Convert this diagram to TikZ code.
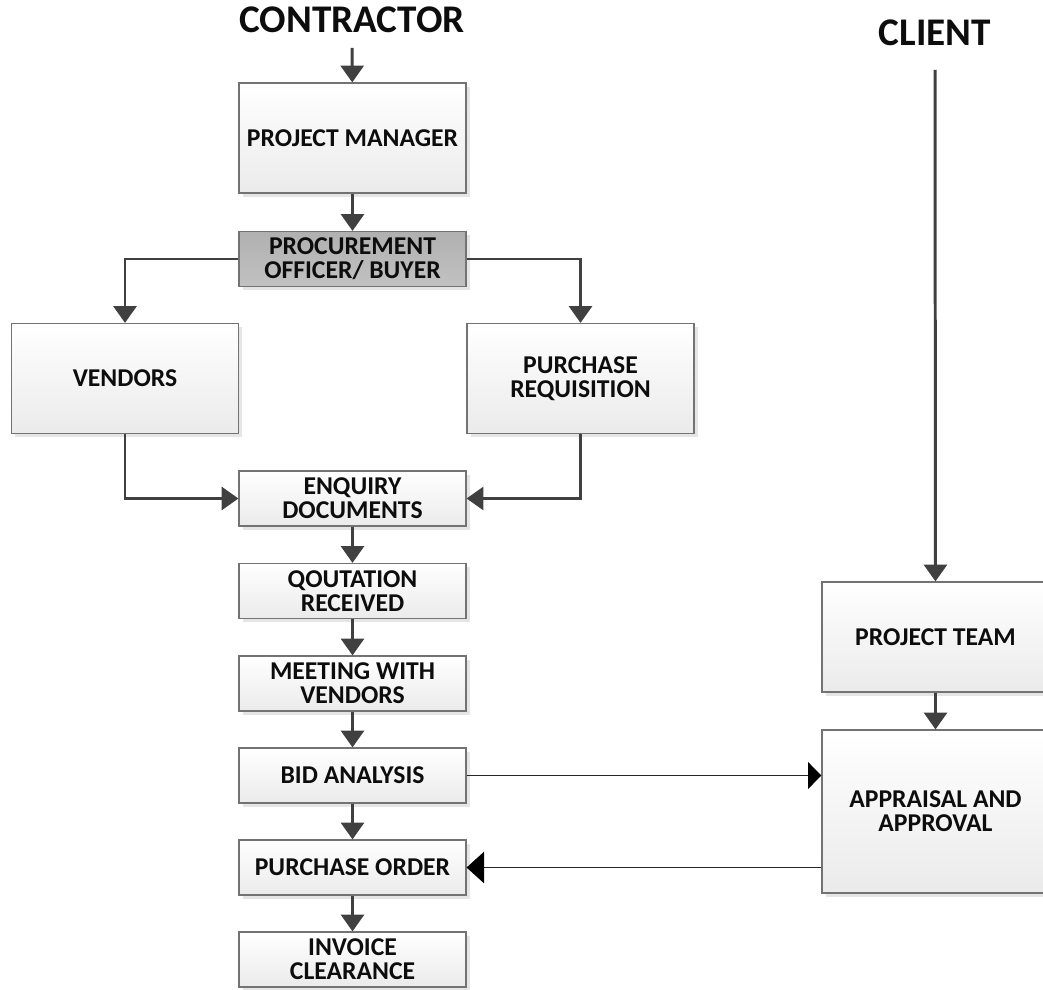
\documentclass[tikz,border=0pt]{standalone}
\usepackage{fontspec}
\setmainfont{Carlito}
\usepackage{tikz}
\usetikzlibrary{positioning,arrows.meta,shadows}

\begin{document}
\begin{tikzpicture}[x=0.02cm, y=-0.02cm,
  every node/.style={font=\bfseries\fontsize{14.6}{13.8}\selectfont, text=black!95, align=center},
  procbox/.style={draw=black!55, line width=0.7pt, top color=white, bottom color=gray!16,
                  minimum width=4.54cm, minimum height=2.2cm, inner sep=2pt,
                  drop shadow={shadow xshift=2.2pt, shadow yshift=-2.2pt, fill=gray!40, opacity=0.5}},
  slimbox/.style={procbox, minimum height=1.1cm},
  darkbox/.style={slimbox, top color=gray!62, bottom color=gray!48},
  title/.style={font=\bfseries\fontsize{22.3}{24}\selectfont},
  flow/.style={draw=black!75, line width=1.7pt, -{Triangle[length=9.5pt, width=13pt]}},
  feed/.style={draw=black!85, line width=0.6pt}
]
  \useasboundingbox (0,0) rectangle (1043,989);

  % --- Titles ---
  \node[title] (contractor) at (352,20) {CONTRACTOR};
  \node[title] (client)     at (935,33) {CLIENT};

  % --- Contractor side ---
  \node[procbox] (pm)   at (352.5,138)   {PROJECT MANAGER};
  \node[darkbox] (buyer) at (352.5,259)  {PROCUREMENT\\OFFICER/ BUYER};
  \node[procbox] (vend) at (125,378.5)   {VENDORS};
  \node[procbox] (preq) at (580.5,378.5) {PURCHASE\\REQUISITION};
  \node[slimbox] (enq)  at (352.5,498.5) {ENQUIRY\\DOCUMENTS};
  \node[slimbox] (quot) at (352.5,591)   {QOUTATION\\RECEIVED};
  \node[slimbox] (meet) at (352.5,683.5) {MEETING WITH\\VENDORS};
  \node[slimbox] (bid)  at (352.5,775.5) {BID ANALYSIS};
  \node[slimbox] (pord) at (352.5,867.5) {PURCHASE ORDER};
  \node[slimbox] (inv)  at (352.5,959.5) {INVOICE\\CLEARANCE};

  % --- Client side ---
  \node[procbox] (team) at (935.5,637) {PROJECT TEAM};
  \node[procbox, minimum height=3.26cm] (appr) at (935.5,811.5) {APPRAISAL AND\\APPROVAL};

  % --- Main flow ---
  \draw[flow, shorten <=5pt] (contractor) -- (pm);
  \draw[flow] (pm) -- (buyer);
  \draw[flow] (buyer.west) -| (vend.north);
  \draw[flow] (buyer.east) -| (preq.north);
  \draw[flow] (vend.south) |- (enq.west);
  \draw[flow] (preq.south) |- (enq.east);
  \draw[flow] (enq) -- (quot);
  \draw[flow] (quot) -- (meet);
  \draw[flow] (meet) -- (bid);
  \draw[flow] (bid) -- (pord);
  \draw[flow] (pord) -- (inv);

  \draw[flow, shorten <=10pt] (client) -- (team);
  \draw[flow] (team) -- (appr);

  % --- Feedback between contractor and client ---
  \draw[feed, -{Triangle[length=7.5pt, width=15pt, black]}] (bid.east) -- (bid.east -| appr.west);
  \draw[feed, -{Triangle[length=10pt, width=18pt, black]}] (appr.west |- pord.east) -- (pord.east);

\end{tikzpicture}
\end{document}
